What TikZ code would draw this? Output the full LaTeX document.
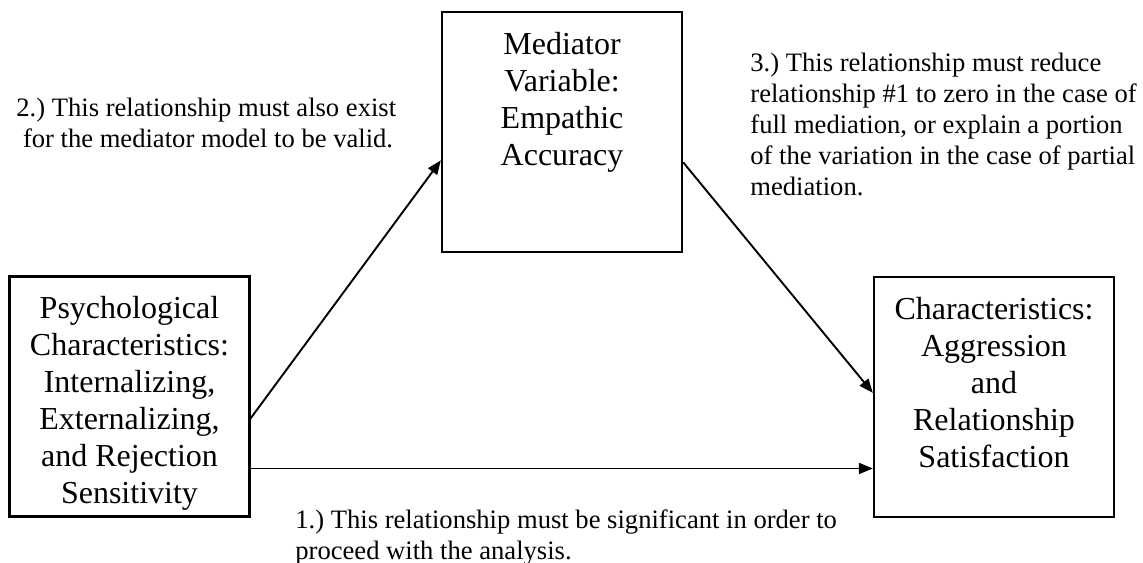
\documentclass[tikz,border=0pt]{standalone}
\usepackage{fontspec}
\setmainfont{Liberation Serif}
\frenchspacing
\usetikzlibrary{calc,arrows.meta}

\begin{document}
\begin{tikzpicture}[x=0.5pt,y=-0.5pt]
\tikzstyle{box} = [draw,line width=1.15pt,minimum width=120pt,minimum height=120pt,inner sep=0pt]
\tikzstyle{boxtxt} = [anchor=north,align=center,inner sep=0pt,font=\fontsize{16}{18.5}\selectfont]
\tikzstyle{ann} = [anchor=north west,align=left,inner sep=0pt,font=\fontsize{13.3}{15.5}\selectfont]
\tikzstyle{link} = [line width=0.95pt,arrows={-Triangle[length=7pt,width=5.5pt]}]
\useasboundingbox (0,0) rectangle (1143,562);

%%%%%% Boxes
\node[box] (psy) at (129.5,396.5) {};
\node[boxtxt] (psytxt) at ([yshift=-10.5pt]psy.north) {Psychological\\Characteristics:\\Internalizing,\\Externalizing,\\and Rejection\\Sensitivity};

\node[box] (med) at (562,132) {};
\node[boxtxt] (medtxt) at ([yshift=-10.5pt]med.north) {Mediator\\Variable:\\Empathic\\Accuracy};

\node[box] (rel) at (994,397) {};
\node[boxtxt] (reltxt) at ([yshift=-10.5pt]rel.north) {Characteristics:\\Aggression\\and\\Relationship\\Satisfaction};

%%%%%% Arrows
\coordinate (direct) at ($(psy.north east)!0.797!(psy.south east)$);
\draw[link] ($(psy.north east)!0.59!(psy.south east)$) -- ($(med.north west)!0.617!(med.south west)$);
\draw[link] ($(med.north east)!0.625!(med.south east)$) -- ($(rel.north west)!0.483!(rel.south west)$);
\draw[link] (direct) -- (direct -| rel.west);

%%%%%% Notes
\node[ann] (note2) at (16,98) {2.) This relationship must also exist\\\hspace*{3.3pt}for the mediator model to be valid.};
\node[ann] (note3) at (750,53) {3.) This relationship must reduce\\relationship \#1 to zero in the case of\\full mediation, or explain a portion\\of the variation in the case of partial\\mediation.};
\node[ann] (note1) at (295,509) {1.) This relationship must be significant in order to\\proceed with the analysis.};
\end{tikzpicture}
\end{document}
